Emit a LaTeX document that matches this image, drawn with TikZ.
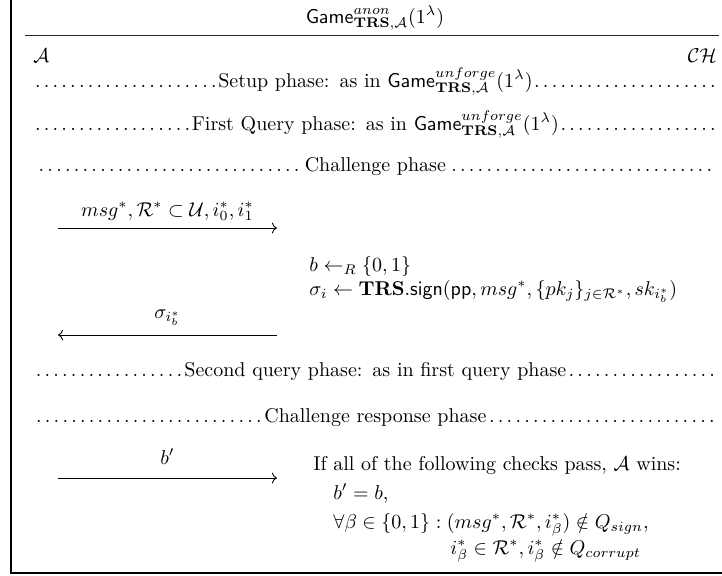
\documentclass[tikz,border=0pt]{standalone}
\usepackage{amsmath, amssymb}
\usetikzlibrary{arrows.meta,positioning}
\newlength{\pxl}
\setlength{\pxl}{0.5pt}
\newcommand{\gamename}[1]{\mathsf{Game}^{#1}_{\mathbf{TRS},\mathcal{A}}(1^{\lambda})}

\begin{document}
\begin{tikzpicture}[
  x=0.5pt, y=-0.5pt,
  txt/.style={inner sep=0pt, anchor=base west},
  phase/.style={inner sep=0pt, anchor=base west, text width=684\pxl, align=left},
  lbl/.style={inner sep=0pt, anchor=base},
  msg/.style={-{Computer Modern Rightarrow}, line width=0.45pt},
  frame/.style={line width=0.55pt},
]
\useasboundingbox (0,0) rectangle (722,575);

% ---- frame and title
\draw[frame] (11,0) -- (11,573) -- (722,573);
\node[lbl] (title) at (375,23) {$\gamename{anon}$};
\draw[line width=0.45pt, black!85] (25,35) -- (719,35);

% ---- the two parties
\node[txt] (adv) at (33,62) {$\mathcal{A}$};
\node[inner sep=0pt, anchor=base east] (ch) at (717,62) {$\mathcal{CH}$};

% ---- phases
\node[phase] (setup) at (33,87)
  {\noindent\dotfill Setup phase: as in $\gamename{unforge}$\dotfill};
\node[phase] (query1) at (33,130)
  {\noindent\dotfill First Query phase: as in $\gamename{unforge}$\dotfill};
\node[phase] (chall) at (33,171)
  {\noindent\dotfill Challenge phase\dotfill};

% ---- challenge message
\coordinate (m1a) at (58,228);
\coordinate (m1c) at (277,228);
\node[lbl] (m1) at (167.5,216) {$msg^*, \mathcal{R}^* \subset \mathcal{U}, i_0^*, i_1^*$};
\draw[msg] (m1a) -- (m1c);

\node[txt] (pickb) at (309,271) {$b \leftarrow_R \{0,1\}$};
\node[txt] (sign) at (309,295)
  {$\sigma_i \leftarrow \mathbf{TRS}.\mathsf{sign}(\mathsf{pp}, msg^*, \{pk_j\}_{j\in\mathcal{R}^*}, sk_{i_b^*})$};

\coordinate (m2a) at (58,335);
\coordinate (m2c) at (277,335);
\node[lbl] (m2) at (167.5,318) {$\sigma_{i_b^*}$};
\draw[msg] (m2c) -- (m2a);

\node[phase] (query2) at (33,376)
  {\noindent\dotfill Second query phase: as in first query phase\dotfill};
\node[phase] (resp) at (33,422)
  {\noindent\dotfill Challenge response phase\dotfill};

% ---- response and checks
\coordinate (m3a) at (58,478);
\coordinate (m3c) at (277,478);
\node[lbl] (m3) at (167.5,464) {$b'$};
\draw[msg] (m3a) -- (m3c);

\node[txt] (wins) at (313,470) {If all of the following checks pass, $\mathcal{A}$ wins:};
\node[txt] (chk1) at (333,499) {$b' = b$,};
\node[txt] (chk2) at (333,528)
  {$\forall \beta \in \{0,1\} : (msg^*, \mathcal{R}^*, i_\beta^*) \notin Q_{sign}$,};
\node[txt] (chk3) at (450,554) {$i_\beta^* \in \mathcal{R}^*, i_\beta^* \notin Q_{corrupt}$};
\end{tikzpicture}
\end{document}
